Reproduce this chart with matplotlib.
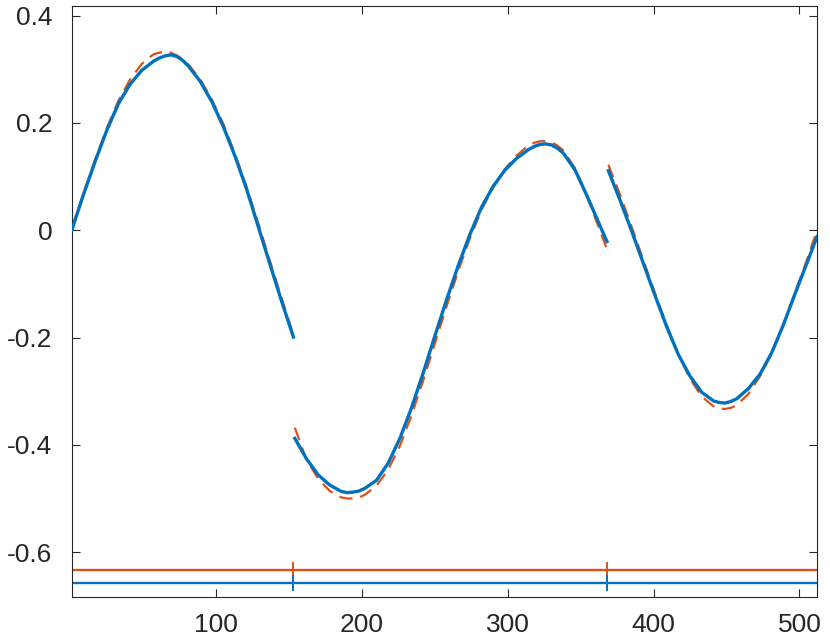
import matplotlib
matplotlib.use("Agg")
import matplotlib.pyplot as plt

plt.rcParams["font.family"] = ["Liberation Sans", "DejaVu Sans"]
plt.rcParams["axes.unicode_minus"] = False

BLUE = "#0072BD"
ORANGE = "#D95319"
AXC = "#262626"

# segment 1
x1 = [1, 9, 17, 25, 33, 41, 49, 57, 61, 65, 69, 73, 77, 81, 89, 97, 105, 113, 121,
      129, 137, 145, 153]
fit1 = [0.0, 0.066, 0.128, 0.186, 0.236, 0.272, 0.298, 0.315, 0.321, 0.325, 0.327,
        0.324, 0.317, 0.306, 0.278, 0.240, 0.193, 0.138, 0.076, 0.006, -0.064,
        -0.133, -0.199]
raw1 = [0.004, 0.068, 0.131, 0.190, 0.241, 0.281, 0.310, 0.328, 0.331, 0.333, 0.331,
        0.326, 0.319, 0.309, 0.282, 0.244, 0.198, 0.142, 0.080, 0.012, -0.058,
        -0.127, -0.195]

# segment 2
x2 = [154, 162, 170, 178, 186, 190, 194, 198, 202, 210, 218, 226, 234, 242, 250, 258,
      266, 274, 282, 290, 298, 306, 314, 318, 322, 326, 330, 334, 338, 346, 354, 362,
      368]
fit2 = [-0.388, -0.426, -0.456, -0.475, -0.487, -0.489, -0.488, -0.486, -0.481,
        -0.466, -0.434, -0.388, -0.331, -0.266, -0.197, -0.130, -0.066, -0.008, 0.043,
        0.082, 0.112, 0.134, 0.150, 0.156, 0.160, 0.161, 0.159, 0.153, 0.144, 0.113,
        0.066, 0.016, -0.021]
raw2 = [-0.368, -0.428, -0.463, -0.486, -0.498, -0.500, -0.500, -0.498, -0.493,
        -0.476, -0.446, -0.402, -0.345, -0.280, -0.211, -0.142, -0.076, -0.015, 0.038,
        0.080, 0.114, 0.139, 0.158, 0.163, 0.166, 0.166, 0.164, 0.158, 0.149, 0.116,
        0.066, 0.008, -0.035]

# segment 3
x3 = [369, 377, 385, 393, 401, 409, 417, 425, 433, 441, 445, 449, 453, 457, 465, 473,
      481, 489, 497, 505, 512]
fit3 = [0.111, 0.056, -0.002, -0.062, -0.122, -0.180, -0.232, -0.272, -0.302, -0.318,
        -0.321, -0.322, -0.319, -0.314, -0.295, -0.268, -0.228, -0.176, -0.118,
        -0.062, -0.012]
raw3 = [0.122, 0.066, 0.006, -0.056, -0.118, -0.177, -0.232, -0.277, -0.310, -0.328,
        -0.332, -0.333, -0.331, -0.326, -0.305, -0.272, -0.229, -0.176, -0.116,
        -0.056, 0.0]

# change points and the two level bars at the bottom
breaks = [153, 368]
bar_x = [1, 512]
raw_level = -0.634
fit_level = -0.658

xticks = [100, 200, 300, 400, 500]
yticks = [-0.6, -0.4, -0.2, 0, 0.2, 0.4]
ytick_labels = ["-0.6", "-0.4", "-0.2", "0", "0.2", "0.4"]

fig = plt.figure(figsize=(8.3, 6.41), dpi=100)
ax = fig.add_axes([0.0864, 0.0691, 0.8979, 0.9215])

for xs, ys in [(x1, raw1), (x2, raw2), (x3, raw3)]:
    ax.plot(xs, ys, color=ORANGE, lw=1.6, dashes=(6, 3.5), zorder=2)
for xs, ys in [(x1, fit1), (x2, fit2), (x3, fit3)]:
    ax.plot(xs, ys, color=BLUE, lw=2.4, solid_joinstyle="round", zorder=3)

ax.plot(bar_x, [raw_level, raw_level], color=ORANGE, lw=1.7, zorder=2)
ax.plot(bar_x, [fit_level, fit_level], color=BLUE, lw=1.7, zorder=2)
h = 0.013
for b in breaks:
    ax.plot([b, b], [raw_level - h, raw_level + h], color=ORANGE, lw=1.4, zorder=2)
    ax.plot([b, b], [fit_level - h, fit_level + h], color=BLUE, lw=1.4, zorder=2)

ax.set_xlim(1, 512)
ax.set_ylim(-0.683, 0.418)
ax.set_xticks(xticks)
ax.set_yticks(yticks)
ax.set_yticklabels(ytick_labels)

ax.tick_params(direction="in", length=6, width=0.8, colors=AXC, labelsize=19,
               top=True, right=True, pad=12)
ax.tick_params(axis="y", pad=14)
for s in ax.spines.values():
    s.set_color(AXC)
    s.set_linewidth(0.8)

fig.savefig("out.png", dpi=100)
